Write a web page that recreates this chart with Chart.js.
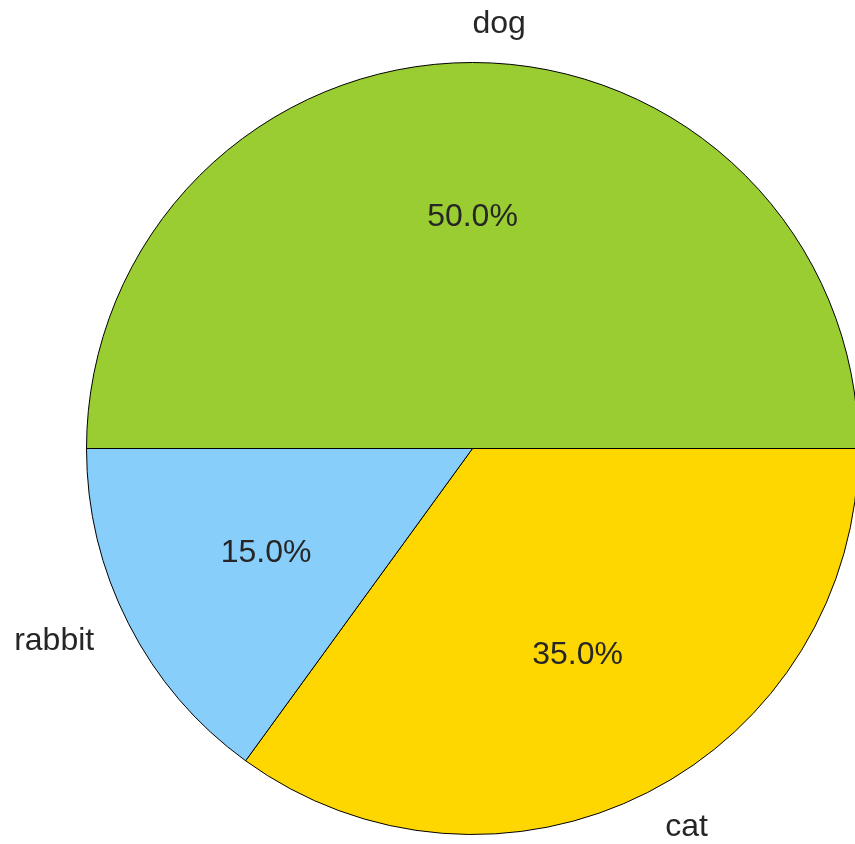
<!DOCTYPE html>
<html>
<head>
<meta charset="utf-8">
<title>Pets</title>
<script src="https://cdn.jsdelivr.net/npm/chart.js@4"></script>
<style>
  html, body { margin: 0; padding: 0; background: #fff; overflow: hidden; }
  #petChart { display: block; }
</style>
</head>
<body>
<canvas id="petChart" width="860" height="844"></canvas>
<script>
// Data
const petLabels = ["dog", "cat", "rabbit"];
const petShares = [50, 35, 15];
const petColors = ["#9acd32", "#ffd700", "#87cefa"];

const textColor = "#262626";
const labelFont = "32px 'Liberation Sans', Arial, sans-serif";

// Draws the category names outside the pie and the percentages inside
const pieLabels = {
  id: "pieLabels",
  afterDatasetsDraw(chart) {
    const ctx = chart.ctx;
    const arcs = chart.getDatasetMeta(0).data;
    const total = petShares.reduce((a, b) => a + b, 0);

    ctx.save();
    ctx.font = labelFont;
    ctx.fillStyle = textColor;
    ctx.textBaseline = "middle";

    arcs.forEach((arc, i) => {
      const mid = (arc.startAngle + arc.endAngle) / 2;
      const r = arc.outerRadius;
      const cos = Math.cos(mid);
      const sin = Math.sin(mid);

      // name at 1.1 * radius
      ctx.textAlign = cos < 0 ? "right" : "left";
      ctx.fillText(petLabels[i], arc.x + cos * r * 1.1, arc.y + sin * r * 1.1);

      // percentage at 0.6 * radius
      const pct = ((petShares[i] / total) * 100).toFixed(1) + "%";
      ctx.textAlign = "center";
      ctx.fillText(pct, arc.x + cos * r * 0.6, arc.y + sin * r * 0.6);
    });
    ctx.restore();
  },
};

const ctx = document.getElementById("petChart").getContext("2d");

window.petChart = new Chart(ctx, {
  type: "pie",
  data: {
    labels: petLabels,
    datasets: [
      {
        data: petShares,
        backgroundColor: petColors,
        borderColor: "#000000",
        borderWidth: 1,
      },
    ],
  },
  options: {
    responsive: false,
    animation: false,
    rotation: -90,
    layout: {
      padding: { left: 86, right: 1, top: 62, bottom: 9 },
    },
    plugins: {
      legend: { display: false },
      tooltip: { enabled: false },
    },
  },
  plugins: [pieLabels],
});
</script>
</body>
</html>
